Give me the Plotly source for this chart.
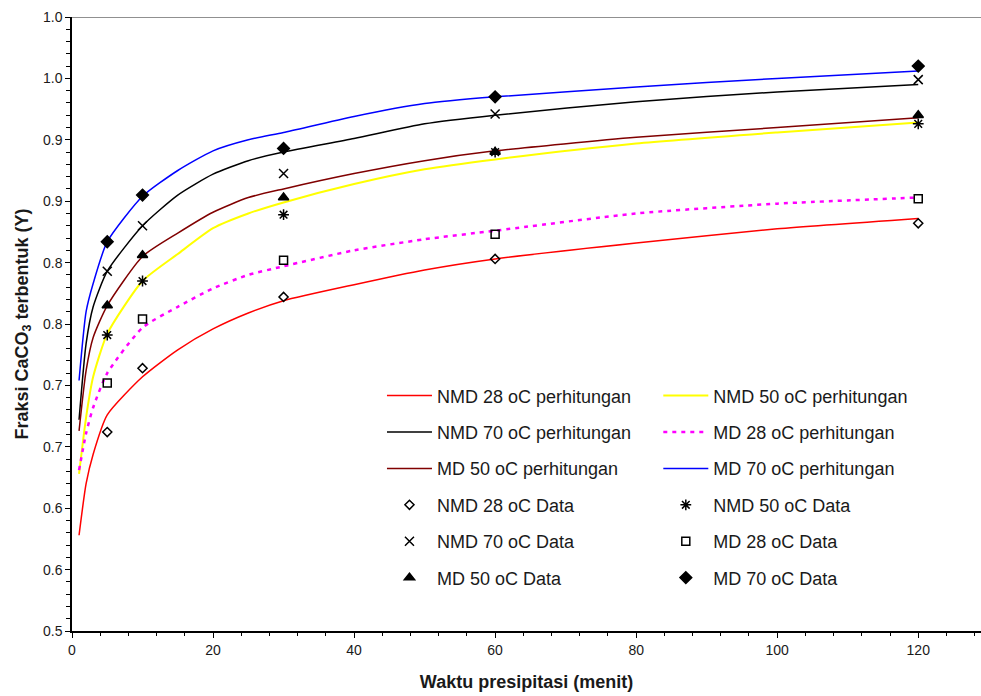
import plotly.graph_objects as go

# ---------------- data ----------------
t_curve = [1, 2, 3, 5, 10, 15, 20, 25, 30, 40, 50, 60, 80, 100, 120]
nmd28_calc = [0.578, 0.620, 0.644, 0.676, 0.707, 0.729, 0.746, 0.759, 0.769, 0.782, 0.794, 0.803, 0.816, 0.8275, 0.836]
nmd50_calc = [0.628, 0.674, 0.707, 0.742, 0.785, 0.807, 0.828, 0.840, 0.849, 0.864, 0.876, 0.884, 0.897, 0.906, 0.914]
nmd70_calc = [0.672, 0.734, 0.764, 0.793, 0.830, 0.855, 0.872, 0.883, 0.890, 0.901, 0.913, 0.920, 0.931, 0.939, 0.945]
md28_calc = [0.631, 0.661, 0.682, 0.710, 0.747, 0.764, 0.779, 0.790, 0.797, 0.810, 0.819, 0.826, 0.840, 0.848, 0.853]
md50_calc = [0.663, 0.712, 0.739, 0.765, 0.805, 0.824, 0.841, 0.853, 0.860, 0.8725, 0.883, 0.891, 0.902, 0.910, 0.918]
md70_calc = [0.704, 0.760, 0.783, 0.817, 0.854, 0.875, 0.891, 0.900, 0.906, 0.919, 0.9295, 0.935, 0.943, 0.950, 0.956]

t_data = [5, 10, 30, 60, 120]
nmd28_data = [0.662, 0.714, 0.772, 0.803, 0.832]
nmd50_data = [0.741, 0.785, 0.839, 0.890, 0.913]
nmd70_data = [0.793, 0.830, 0.8725, 0.921, 0.949]
md28_data = [0.702, 0.754, 0.802, 0.823, 0.852]
md50_data = [0.765, 0.806, 0.853, 0.890, 0.920]
md70_data = [0.817, 0.855, 0.893, 0.935, 0.960]

y_tickvals = [0.5, 0.55, 0.6, 0.65, 0.7, 0.75, 0.8, 0.85, 0.9, 0.95, 1.0]
y_ticktext = ["0.5", "0.6", "0.6", "0.7", "0.7", "0.8", "0.8", "0.9", "0.9", "1.0", "1.0"]
x_tickvals = [0, 20, 40, 60, 80, 100, 120]
x_ticktext = ["0", "20", "40", "60", "80", "100", "120"]

FONT = "Liberation Sans, Arial, sans-serif"

fig = go.Figure()

curves = [
    ("NMD 28 oC perhitungan", nmd28_calc, "#FF0000", "solid", 1.5, "legend"),
    ("NMD 50 oC perhitungan", nmd50_calc, "#FFFF00", "solid", 2, "legend2"),
    ("NMD 70 oC perhitungan", nmd70_calc, "#000000", "solid", 1.5, "legend"),
    ("MD 28 oC perhitungan", md28_calc, "#FF00FF", "4px,5px", 2.5, "legend2"),
    ("MD 50 oC perhitungan", md50_calc, "#800000", "solid", 1.5, "legend"),
    ("MD 70 oC perhitungan", md70_calc, "#0000FF", "solid", 1.5, "legend2"),
]
for i, (name, ys, col, dash, w, lg) in enumerate(curves):
    fig.add_trace(go.Scatter(
        x=t_curve, y=ys, name=name, mode="lines",
        line=dict(color=col, width=w, dash=dash, shape="spline", smoothing=0.6),
        legend=lg, legendgroup="c%d" % i,
    ))

points = [
    ("NMD 28 oC Data", nmd28_data, "diamond-open", 7, "legend"),
    ("NMD 50 oC Data", nmd50_data, "asterisk-open", 9, "legend2"),
    ("NMD 70 oC Data", nmd70_data, "x-thin-open", 9, "legend"),
    ("MD 28 oC Data", md28_data, "square-open", 8, "legend2"),
    ("MD 50 oC Data", md50_data, "triangle-up", 9, "legend"),
    ("MD 70 oC Data", md70_data, "diamond", 9, "legend2"),
]
for i, (name, ys, sym, sz, lg) in enumerate(points):
    fig.add_trace(go.Scatter(
        x=t_data, y=ys, name=name, mode="markers",
        marker=dict(symbol=sym, size=sz, color="#000000",
                    line=dict(color="#000000", width=1.5)),
        legend=lg, legendgroup="d%d" % i,
    ))

legend_common = dict(
    bgcolor="rgba(0,0,0,0)", borderwidth=0,
    font=dict(family=FONT, size=18, color="#1a1a1a"),
    traceorder="grouped", tracegroupgap=10,
    itemwidth=45, xanchor="left", yanchor="top",
)

fig.update_layout(
    width=981, height=696,
    margin=dict(l=72, r=0, t=16.7, b=65.3),
    paper_bgcolor="white", plot_bgcolor="white",
    font=dict(family=FONT, size=14, color="#1a1a1a"),
    showlegend=True,
    legend=dict(x=0.341, y=0.413, **legend_common),
    legend2=dict(x=0.645, y=0.413, **legend_common),
    xaxis=dict(
        range=[0, 128.9], showgrid=False, zeroline=False,
        showline=True, linecolor="#000000", linewidth=1.5,
        tickmode="array", tickvals=x_tickvals, ticktext=x_ticktext,
        ticks="outside", ticklen=5, tickwidth=1, tickcolor="#000000",
        minor=dict(dtick=4, ticks="outside", ticklen=3, tickcolor="#000000", showgrid=False),
        tickfont=dict(size=14),
        title=dict(text="<b>Waktu presipitasi (menit)</b>", font=dict(size=18), standoff=19),
    ),
    yaxis=dict(
        range=[0.5, 1.0], showgrid=False, zeroline=False,
        showline=True, linecolor="#000000", linewidth=1.5,
        tickmode="array", tickvals=y_tickvals, ticktext=y_ticktext,
        ticks="outside", ticklen=5, tickwidth=1, tickcolor="#000000",
        minor=dict(dtick=0.01, ticks="outside", ticklen=4, tickcolor="#000000", showgrid=False),
        tickfont=dict(size=14),
        title=dict(text="<b>Fraksi CaCO<sub>3</sub> terbentuk (Y)</b>", font=dict(size=18), standoff=10),
    ),
    shapes=[dict(type="line", xref="paper", x0=0, x1=1, yref="y", y0=1.0, y1=1.0,
                 line=dict(color="#909090", width=2), layer="below")],
)

fig.write_html("out.html")
